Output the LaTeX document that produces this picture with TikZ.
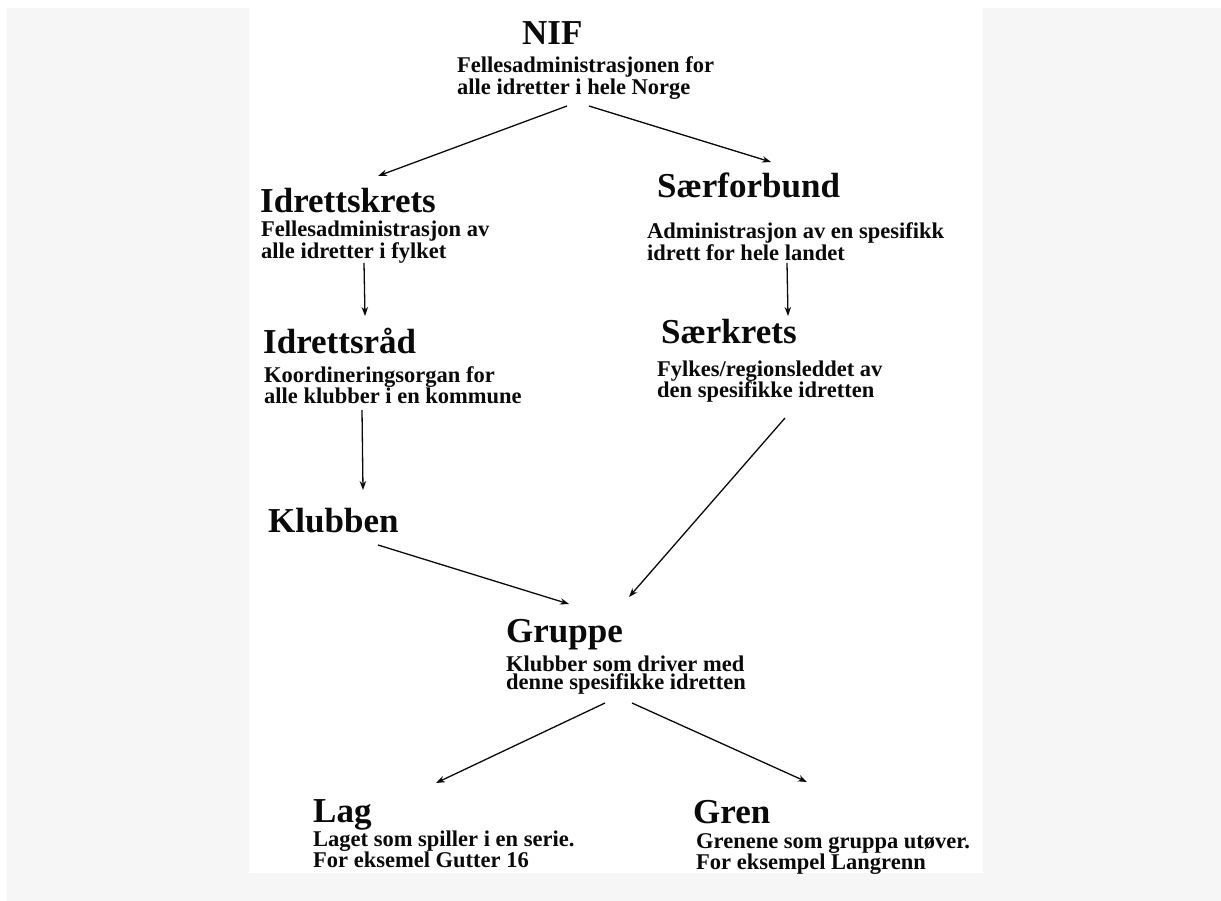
\documentclass[tikz,border=0pt]{standalone}
\usepackage{fontspec}
\setmainfont{Liberation Serif}
\usetikzlibrary{arrows.meta}
\definecolor{bggray}{RGB}{246,246,246}
\definecolor{ink}{RGB}{10,10,10}
\newcommand\twolines[2]{\vtop{\baselineskip=18pt\hbox{#1}\hbox{#2}}}
\tikzset{
  head/.style={anchor=base west,inner sep=0pt,font=\bfseries\fontsize{35}{40}\selectfont,text=ink},
  desc/.style={anchor=base west,inner sep=0pt,font=\bfseries\fontsize{22.5}{18}\selectfont,text=ink},
  conn/.style={draw=ink,line width=1.3pt,-{Stealth[length=9pt,width=6.5pt]}}
}
\begin{document}
\begin{tikzpicture}[x=1pt,y=-1pt]
\useasboundingbox (0,0) rectangle (1221,901);
\fill[white] (0,0) rectangle (1221,901);
\fill[bggray] (7,8) rectangle (1221,901);
\fill[white] (249,0) rectangle (983,873);

% headings and descriptions
\node[head] (nif) at (522,45) {NIF};
\node[desc] (nifd) at (457,73) {\twolines{Fellesadministrasjonen for}{alle idretter i hele Norge}};

\node[head] (ik) at (260,213) {Idrettskrets};
\node[desc] (ikd) at (261,237) {\twolines{Fellesadministrasjon av}{alle idretter i fylket}};

\node[head] (sf) at (657,198) {Særforbund};
\node[desc] (sfd) at (647,239) {\twolines{Administrasjon av en spesifikk}{idrett for hele landet}};

\node[head] (ir) at (263,353) {Idrettsråd};
\node[desc] (ird) at (264,382) {\twolines{Koordineringsorgan for}{alle klubber i en kommune}};

\node[head] (sk) at (661,344) {Særkrets};
\node[desc] (skd) at (657,376) {\twolines{Fylkes/regionsleddet av}{den spesifikke idretten}};

\node[head] (kl) at (268,532) {Klubben};

\node[head] (gr) at (506,642) {Gruppe};
\node[desc] (grd) at (506,671) {\twolines{Klubber som driver med}{denne spesifikke idretten}};

\node[head] (lag) at (313,822) {Lag};
\node[desc] (lagd) at (313,846) {\twolines{Laget som spiller i en serie.}{For eksemel Gutter 16}};

\node[head] (gren) at (693,823) {Gren};
\node[desc] (grend) at (696,848) {\twolines{Grenene som gruppa utøver.}{For eksempel Langrenn}};

% connector end points
\coordinate (a1) at (567,106);  \coordinate (a2) at (378,176);
\coordinate (b1) at (589,106);  \coordinate (b2) at (771,162);
\coordinate (c1) at (364,263);  \coordinate (c2) at (365,316);
\coordinate (d1) at (787,263);  \coordinate (d2) at (788,316);
\coordinate (e1) at (362,410);  \coordinate (e2) at (363,490);
\coordinate (f1) at (785,418);  \coordinate (f2) at (629,597);
\coordinate (g1) at (378,545);  \coordinate (g2) at (569,604);
\coordinate (h1) at (605,703);  \coordinate (h2) at (436,783);
\coordinate (i1) at (632,703);  \coordinate (i2) at (807,782);

\draw[conn] (a1) -- (a2);
\draw[conn] (b1) -- (b2);
\draw[conn] (c1) -- (c2);
\draw[conn] (d1) -- (d2);
\draw[conn] (e1) -- (e2);
\draw[conn] (f1) -- (f2);
\draw[conn] (g1) -- (g2);
\draw[conn] (h1) -- (h2);
\draw[conn] (i1) -- (i2);
\end{tikzpicture}
\end{document}
